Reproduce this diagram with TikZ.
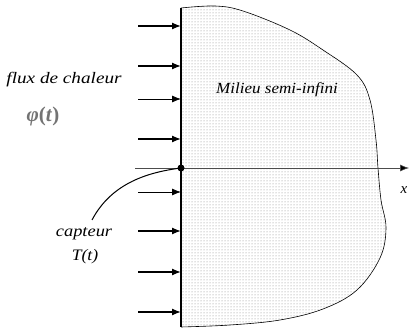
\documentclass[tikz,border=0pt]{standalone}
\usepackage{fontspec}
\setmainfont{Liberation Serif}
\usetikzlibrary{arrows.meta,patterns}
\begin{document}
\begin{tikzpicture}[x=1pt,y=-1pt,
  flux/.style={line width=1.3pt,-{Latex[length=9pt,width=7pt]}},
  fluxthin/.style={line width=0.8pt,-{Latex[length=9pt,width=7pt]}},
  lbl/.style={inner sep=0pt,font=\itshape}]
\useasboundingbox (0,0) rectangle (410,331);
% medium
\path[pattern=dots,pattern color=black!50]
  plot[smooth,tension=0.6] coordinates {(181,8) (215,6) (243,11) (290,30) (323,50) (357,75) (370,100) (376,140) (378,168) (381,200) (386,228) (380,258) (357,290) (323,309) (280,320) (230,325) (181,327)} -- cycle;
\draw[line width=0.6pt]
  plot[smooth,tension=0.6] coordinates {(181,8) (215,6) (243,11) (290,30) (323,50) (357,75) (370,100) (376,140) (378,168) (381,200) (386,228) (380,258) (357,290) (323,309) (280,320) (230,325) (181,327)};
% wall
\coordinate (wt) at (181,8);
\coordinate (wb) at (181,327);
\draw[line width=1.3pt] (wt) -- (wb);
% axis
\coordinate (ax0) at (135,168);
\coordinate (ax1) at (409,168);
\draw[line width=0.6pt,black!70,-{Latex[length=9pt,width=7pt,fill=black]}] (ax0) -- (ax1);
\node[lbl,font=\itshape\fontsize{15}{15}\selectfont] (xl) at (404,190) {x};
% flux arrows
\foreach \y/\s in {26/flux,66/flux,99/fluxthin,139/flux,192/fluxthin,231/flux,272/flux,312/flux}{
  \coordinate (s\y) at (138,\y);
  \coordinate (e\y) at (181,\y);
  \draw[\s] (s\y) -- (e\y);
}
% sensor
\node[circle,fill=black,inner sep=0pt,minimum size=7pt] (cap) at (181,168) {};
\coordinate (cend) at (92,220);
\draw[line width=1pt] (cap.center) .. controls (150,172) and (112,182) .. (cend);
% labels
\node[lbl,font=\itshape\fontsize{16}{16}\selectfont] (flux) at (64,80) {\scalebox{1.2}[1]{flux de chaleur}};
\node[lbl,text=black!55,font=\bfseries\fontsize{21}{21}\selectfont] (phi) at (43,116) {\textit{φ}(\textit{t})};
\node[lbl,font=\itshape\fontsize{16}{16}\selectfont] (capt) at (84,234) {\scalebox{1.15}[1]{capteur}};
\node[lbl,font=\itshape\fontsize{16}{16}\selectfont] (Tt) at (85,257) {\scalebox{1.1}[1]{T(t)}};
\node[lbl,font=\itshape\fontsize{15.5}{15.5}\selectfont] (mil) at (277,90) {\scalebox{1.1}[1]{Milieu semi-infini}};
\end{tikzpicture}
\end{document}
